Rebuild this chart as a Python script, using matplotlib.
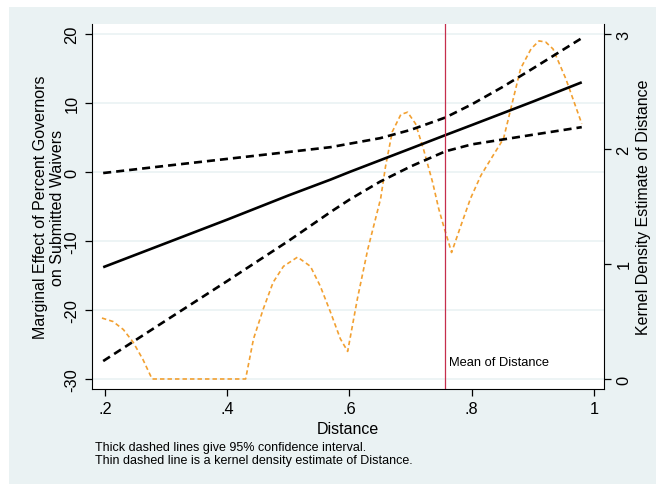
import matplotlib
matplotlib.use("Agg")
import matplotlib.pyplot as plt
from matplotlib.patches import Rectangle

plt.rcParams['font.family'] = ['Liberation Sans', 'DejaVu Sans']
plt.rcParams['lines.scale_dashes'] = False

# marginal effect and 95% bounds
dist = [0.197, 0.3, 0.4, 0.5, 0.569, 0.6, 0.65, 0.7, 0.757, 0.8, 0.85, 0.9, 0.98]
effect = [-13.8, -10.3, -6.9, -3.4, -1.1, 0.0, 1.7, 3.4, 5.35, 6.8, 8.5, 10.2, 13.0]
upper = [-0.15, 0.9, 1.9, 2.9, 3.6, 4.1, 4.9, 6.1, 7.9, 9.8, 12.3, 15.0, 19.4]
lower = [-27.4, -21.5, -15.8, -10.0, -5.8, -4.0, -1.4, 0.8, 3.0, 4.0, 4.7, 5.4, 6.5]

# kernel density of Distance
kd_x = [0.195, 0.213, 0.230, 0.246, 0.262, 0.277, 0.430, 0.443, 0.459, 0.475,
        0.492, 0.515, 0.536, 0.552, 0.569, 0.585, 0.597, 0.613, 0.630, 0.651,
        0.659, 0.670, 0.684, 0.695, 0.708, 0.721, 0.736, 0.746, 0.754, 0.762,
        0.767, 0.782, 0.798, 0.815, 0.831, 0.852, 0.869, 0.880, 0.897, 0.910,
        0.921, 0.933, 0.954, 0.970, 0.980]
kd_y = [0.53, 0.50, 0.43, 0.32, 0.17, 0.0, 0.0, 0.35, 0.61, 0.84,
        0.98, 1.06, 0.98, 0.81, 0.58, 0.35, 0.24, 0.70, 1.13, 1.57,
        1.85, 2.15, 2.30, 2.32, 2.22, 2.00, 1.71, 1.48, 1.33, 1.19,
        1.10, 1.33, 1.57, 1.77, 1.91, 2.09, 2.46, 2.70, 2.87, 2.94,
        2.93, 2.87, 2.61, 2.37, 2.22]

mean_dist = 0.757

bg = '#EAF2F3'
fig = plt.figure(figsize=(6.56, 4.85), dpi=100, facecolor='white')
fig.patches.append(Rectangle((9 / 656, 0), 1, 477 / 485, transform=fig.transFigure,
                             facecolor=bg, edgecolor='none', zorder=-10))

ax = fig.add_axes([92 / 656, 95 / 485, 512 / 656, 365 / 485])
ax2 = ax.twinx()

ax.set_xlim(0.1787, 1.0164)
ax.set_ylim(-31.45, 21.45)
ax2.set_ylim(-0.087, 3.087)

# keep the effect lines above the density curve, white plot region below both
ax2.set_zorder(0)
ax2.patch.set_visible(True)
ax2.patch.set_facecolor('white')
ax.set_zorder(1)
ax.patch.set_visible(False)

for y in [-30, -20, -10, 0, 10, 20]:
    ax2.axhline((y + 30) / 50 * 3, color=bg, lw=1.2, zorder=0)

ax2.plot(kd_x, kd_y, color='#F2A031', lw=1.2, dashes=(3.2, 2.2))
ax.plot(dist, effect, color='black', lw=1.9, solid_capstyle='butt')
ax.plot(dist, upper, color='black', lw=1.9, dashes=(5.8, 3.6))
ax.plot(dist, lower, color='black', lw=1.9, dashes=(5.8, 3.6))
ax.axvline(mean_dist, color='#C62E4C', lw=0.9)
ax.text(mean_dist + 0.006, -27.5, 'Mean of Distance', fontsize=9.3, va='center', ha='left')

ax.set_xticks([0.2, 0.4, 0.6, 0.8, 1.0])
ax.set_xticklabels(['.2', '.4', '.6', '.8', '1'])
ax.set_yticks([-30, -20, -10, 0, 10, 20])
ax.set_yticklabels(['-30', '-20', '-10', '0', '10', '20'], rotation=90, va='center')
ax2.set_yticks([0, 1, 2, 3])
ax2.set_yticklabels(['0', '1', '2', '3'], rotation=90, va='center')

for a in (ax, ax2):
    a.spines['top'].set_visible(False)
    a.tick_params(length=5, width=0.9, labelsize=11.8, pad=4)
ax.spines['right'].set_visible(False)
ax2.spines['left'].set_visible(False)
ax2.spines['bottom'].set_visible(False)

ax.set_xlabel('Distance', fontsize=11.5, labelpad=3)
ax.set_ylabel('Marginal Effect of Percent Governors\non Submitted Waivers',
              fontsize=11.5, linespacing=1.1, labelpad=0)
ax2.set_ylabel('Kernel Density Estimate of Distance', fontsize=11.5, labelpad=3)

fig.text(95 / 656, 1 - 448 / 485, 'Thick dashed lines give 95% confidence interval.',
         fontsize=9, va='center', ha='left')
fig.text(95 / 656, 1 - 461 / 485, 'Thin dashed line is a kernel density estimate of Distance.',
         fontsize=9, va='center', ha='left')

fig.savefig('out.png', dpi=100, facecolor=fig.get_facecolor())
